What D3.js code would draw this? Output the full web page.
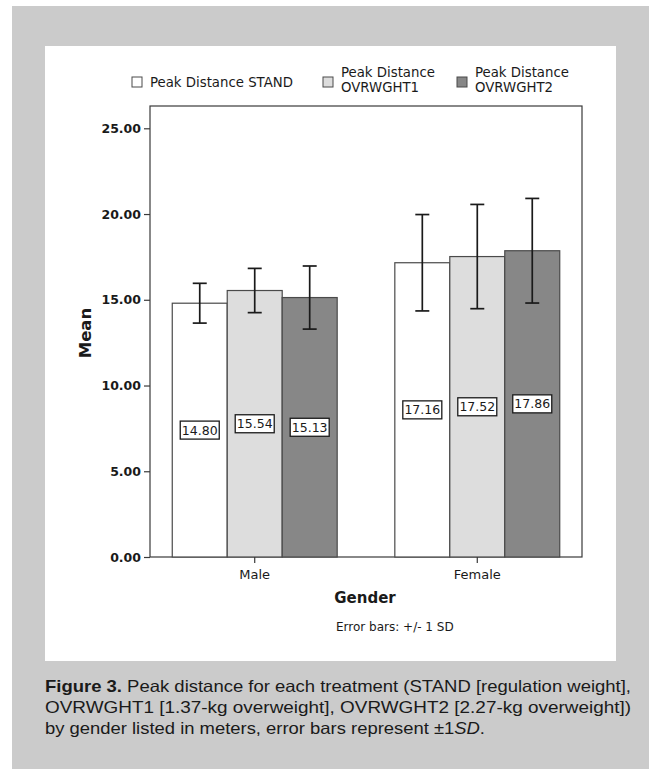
<!DOCTYPE html>
<html>
<head>
<meta charset="utf-8">
<script src="https://cdn.jsdelivr.net/npm/d3@7/dist/d3.min.js"></script>
<style>
  body { margin: 0; background: #fff; }
  svg text { font-family: "DejaVu Sans", sans-serif; }
</style>
</head>
<body>
<script>

  // values
  const genders = ['Male', 'Female']
  const seriesNames = ['Peak Distance STAND', 'Peak Distance OVRWGHT1', 'Peak Distance OVRWGHT2']
  const standMean = [14.80, 17.16]
  const ovr1Mean = [15.54, 17.52]
  const ovr2Mean = [15.13, 17.86]
  const standSD = [1.16, 2.81]
  const ovr1SD = [1.29, 3.04]
  const ovr2SD = [1.84, 3.05]
  const yTicks = [0, 5, 10, 15, 20, 25]
  const captionLines = [
    'Peak distance for each treatment (STAND [regulation weight],',
    'OVRWGHT1 [1.37-kg overweight], OVRWGHT2 [2.27-kg overweight])',
    'by gender listed in meters, error bars represent '
  ]

  const W = 649, H = 769
  const plot = {left: 150, right: 582, top: 106, bottom: 557}
  const colors = {bg: '#cbcbcb', fills: ['#ffffff', '#dddddd', '#878787'], barStroke: '#4a4a4a', ink: '#1a1a1a'}

  const means = [standMean, ovr1Mean, ovr2Mean]
  const sds = [standSD, ovr1SD, ovr2SD]
  const data = []
  genders.forEach((g, gi) => {
    seriesNames.forEach((s, si) => {
      data.push({gender: g, series: si, mean: means[si][gi], sd: sds[si][gi]})
    })
  })

  const svg = d3.select('body').append('svg')
      .attr('width', W)
      .attr('height', H)

  // grey frame + white panel
  svg.append('rect')
      .attr('x', 12).attr('y', 6)
      .attr('width', W - 12).attr('height', H - 6)
      .style('fill', colors.bg)
  svg.append('rect')
      .attr('x', 45).attr('y', 46)
      .attr('width', 571).attr('height', 615)
      .style('fill', '#fff')

  const yScale = d3.scaleLinear()
    .domain([0, 26.3])
    .range([plot.bottom, plot.top])

  const x0 = d3.scaleBand()
    .domain(genders)
    .range([plot.left, plot.right])
    .paddingInner(0.259)
    .paddingOuter(0.1)

  const x1 = d3.scaleBand()
    .domain(d3.range(seriesNames.length))
    .range([0, x0.bandwidth()])

  // plot frame
  svg.append('rect')
      .attr('x', plot.left).attr('y', plot.top)
      .attr('width', plot.right - plot.left)
      .attr('height', plot.bottom - plot.top)
      .style('fill', 'none')
      .style('stroke', '#3a3a3a')
      .style('stroke-width', 1.2)

  // bars
  const gBars = svg.append('g')
  gBars.selectAll('rect.bar')
    .data(data)
    .enter()
    .append('rect')
      .attr('class', 'bar')
      .attr('x', d => x0(d.gender) + x1(d.series))
      .attr('y', d => yScale(d.mean))
      .attr('width', x1.bandwidth())
      .attr('height', d => yScale(0) - yScale(d.mean))
      .style('fill', d => colors.fills[d.series])
      .style('stroke', colors.barStroke)
      .style('stroke-width', 1.2)

  // error bars
  const cap = 7
  const gErr = svg.append('g')
      .style('stroke', colors.ink)
      .style('stroke-width', 1.7)
  data.forEach(d => {
    const cx = x0(d.gender) + x1(d.series) + x1.bandwidth() / 2
    const y1 = yScale(d.mean + d.sd), y2 = yScale(d.mean - d.sd)
    gErr.append('line').attr('x1', cx).attr('x2', cx).attr('y1', y1).attr('y2', y2)
    gErr.append('line').attr('x1', cx - cap).attr('x2', cx + cap).attr('y1', y1).attr('y2', y1)
    gErr.append('line').attr('x1', cx - cap).attr('x2', cx + cap).attr('y1', y2).attr('y2', y2)
  })

  // value labels in boxes at half height
  const gLab = svg.append('g')
  data.forEach(d => {
    const cx = x0(d.gender) + x1(d.series) + x1.bandwidth() / 2
    const cy = yScale(d.mean / 2)
    gLab.append('rect')
        .attr('x', cx - 19.5).attr('y', cy - 9)
        .attr('width', 39).attr('height', 18)
        .style('fill', '#fff')
        .style('stroke', colors.ink)
        .style('stroke-width', 1.3)
    gLab.append('text')
        .attr('x', cx).attr('y', cy + 4.5)
        .style('text-anchor', 'middle')
        .style('font-size', '12.5px')
        .style('fill', colors.ink)
        .text(d.mean.toFixed(2))
  })

  // y axis
  const yAxis = d3.axisLeft(yScale)
    .tickValues(yTicks)
    .tickFormat(d3.format('.2f'))
    .tickSize(6)
    .tickSizeOuter(0)
  const gY = svg.append('g')
      .attr('transform', `translate(${plot.left}, 0)`)
      .call(yAxis)
  gY.select('.domain').remove()
  gY.selectAll('line').style('stroke', '#3a3a3a').style('stroke-width', 1.2)
  gY.selectAll('text')
      .attr('x', -9)
      .style('font-family', '"DejaVu Sans", sans-serif')
      .style('font-size', '12.5px')
      .style('font-weight', 'bold')
      .style('fill', colors.ink)

  svg.append('text')
      .attr('transform', `translate(91, 333) rotate(-90)`)
      .style('text-anchor', 'middle')
      .style('font-size', '16.5px')
      .style('font-weight', 'bold')
      .style('fill', colors.ink)
      .text('Mean')

  // x axis
  const xAxis = d3.axisBottom(x0).tickSize(6).tickSizeOuter(0)
  const gX = svg.append('g')
      .attr('transform', `translate(0, ${plot.bottom})`)
      .call(xAxis)
  gX.select('.domain').remove()
  gX.selectAll('line').style('stroke', '#3a3a3a').style('stroke-width', 1.2)
  gX.selectAll('text')
      .attr('y', 13)
      .style('font-family', '"DejaVu Sans", sans-serif')
      .style('font-size', '13px')
      .style('fill', colors.ink)

  svg.append('text')
      .attr('x', 365).attr('y', 603)
      .style('text-anchor', 'middle')
      .style('font-size', '15px')
      .style('font-weight', 'bold')
      .style('fill', colors.ink)
      .text('Gender')

  svg.append('text')
      .attr('x', 336).attr('y', 631)
      .style('font-size', '12px')
      .style('fill', colors.ink)
      .text('Error bars: +/- 1 SD')

  // legend
  const legendPos = [{x: 132, label: ['Peak Distance STAND']},
                     {x: 323, label: ['Peak Distance', 'OVRWGHT1']},
                     {x: 457, label: ['Peak Distance', 'OVRWGHT2']}]
  legendPos.forEach((l, i) => {
    svg.append('rect')
        .attr('x', l.x).attr('y', 77)
        .attr('width', 10).attr('height', 10)
        .style('fill', colors.fills[i])
        .style('stroke', colors.barStroke)
        .style('stroke-width', 1)
    const t = svg.append('text')
        .attr('x', l.x + 18)
        .style('font-size', '13.3px')
        .style('fill', colors.ink)
    if (l.label.length === 1) {
      t.attr('y', 86.5).text(l.label[0])
    } else {
      t.attr('y', 76.5).text(l.label[0])
      svg.append('text')
          .attr('x', l.x + 18).attr('y', 91.5)
          .style('font-size', '13.3px')
          .style('fill', colors.ink)
          .text(l.label[1])
    }
  })

  // caption
  const capFont = '"Liberation Sans", Arial, sans-serif'
  const c1 = svg.append('text')
      .attr('x', 45).attr('y', 692)
      .attr('textLength', 586).attr('lengthAdjust', 'spacingAndGlyphs')
      .style('font-family', capFont)
      .style('font-size', '16.5px')
      .style('fill', '#1a1a1a')
  c1.append('tspan').style('font-weight', 'bold').text('Figure 3.')
  c1.append('tspan').text(' ' + captionLines[0])

  svg.append('text')
      .attr('x', 45).attr('y', 713)
      .attr('textLength', 586).attr('lengthAdjust', 'spacingAndGlyphs')
      .style('font-family', capFont)
      .style('font-size', '16.5px')
      .style('fill', '#1a1a1a')
      .text(captionLines[1])

  const c3 = svg.append('text')
      .attr('x', 45).attr('y', 734)
      .attr('textLength', 440).attr('lengthAdjust', 'spacingAndGlyphs')
      .style('font-family', capFont)
      .style('font-size', '16.5px')
      .style('fill', '#1a1a1a')
  c3.append('tspan').text(captionLines[2])
  c3.append('tspan').text('\u00b11')
  c3.append('tspan').style('font-style', 'italic').text('SD')
  c3.append('tspan').text('.')

</script>
</body>
</html>
